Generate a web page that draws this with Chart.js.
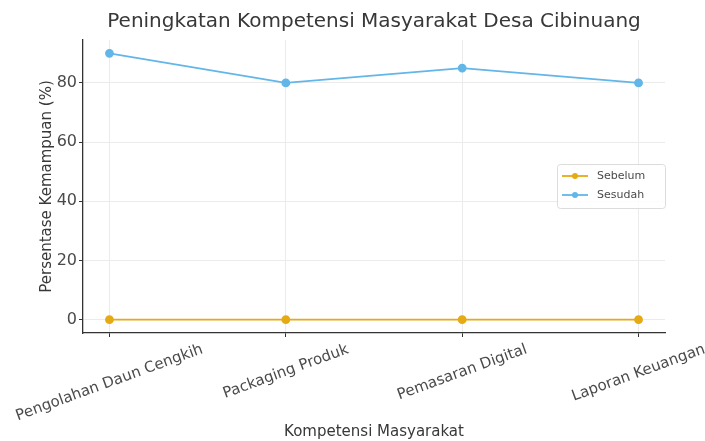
<!DOCTYPE html>
<html>
<head>
<meta charset="utf-8">
<script src="https://cdn.jsdelivr.net/npm/chart.js@4.4.1/dist/chart.umd.min.js"></script>
<style>
  html, body { margin: 0; padding: 0; background: #fff; }
  #chart { display: block; }
</style>
</head>
<body>
<canvas id="chart" width="705" height="441"></canvas>
<script>
// data
const categories = ['Pengolahan Daun Cengkih', 'Packaging Produk', 'Pemasaran Digital', 'Laporan Keuangan'];
const sebelum = [0, 0, 0, 0];
const sesudah = [90, 80, 85, 80];
const yTicks = [0, 20, 40, 60, 80];

const FONT = "'DejaVu Sans', sans-serif";
const TEXT = '#4a4a4a';
const SPINE = '#333';
const GRID = '#ebebeb';

const toPoints = arr => arr.map((v, i) => ({ x: i, y: v }));

// rotated x labels, centred on each tick (like the original)
const xLabels = {
    id: 'xLabels',
    afterDraw(chart) {
        const ctx = chart.ctx;
        const xs = chart.scales.x;
        const ang = 20 * Math.PI / 180;
        ctx.save();
        ctx.font = '15px ' + FONT;
        ctx.fillStyle = TEXT;
        ctx.textAlign = 'center';
        ctx.textBaseline = 'middle';
        categories.forEach((lab, i) => {
            const w = ctx.measureText(lab).width;
            const h = 15;
            const cy = 342 + (w * Math.sin(ang) + h * Math.cos(ang)) / 2;
            ctx.save();
            ctx.translate(xs.getPixelForValue(i), cy);
            ctx.rotate(-ang);
            ctx.fillText(lab, 0, 0);
            ctx.restore();
        });
        ctx.restore();
    }
};

// matplotlib style legend inside the plot, right middle
const boxLegend = {
    id: 'boxLegend',
    afterDraw(chart) {
        const ctx = chart.ctx;
        const x0 = 557, y0 = 164, w = 108, h = 44;
        ctx.save();
        ctx.fillStyle = 'rgba(255,255,255,0.85)';
        ctx.strokeStyle = '#dcdcdc';
        ctx.lineWidth = 1;
        ctx.beginPath();
        ctx.roundRect(x0 + 0.5, y0 + 0.5, w, h, 3);
        ctx.fill();
        ctx.stroke();
        ctx.font = '11px ' + FONT;
        ctx.textBaseline = 'middle';
        ctx.textAlign = 'left';
        chart.data.datasets.forEach((ds, i) => {
            const y = y0 + 12 + i * 19;
            ctx.strokeStyle = ds.borderColor;
            ctx.lineWidth = 1.8;
            ctx.beginPath();
            ctx.moveTo(x0 + 5, y);
            ctx.lineTo(x0 + 31, y);
            ctx.stroke();
            ctx.fillStyle = ds.borderColor;
            ctx.beginPath();
            ctx.arc(x0 + 18, y, 3, 0, Math.PI * 2);
            ctx.fill();
            ctx.fillStyle = TEXT;
            ctx.fillText(ds.label, x0 + 40, y);
        });
        ctx.restore();
    }
};

new Chart(document.getElementById('chart'), {
    type: 'line',
    data: {
        datasets: [
            {
                label: 'Sebelum',
                data: toPoints(sebelum),
                borderColor: '#e6aa14',
                backgroundColor: '#e6aa14',
                borderWidth: 1.8,
                pointRadius: 3.5,
                pointHoverRadius: 3.5,
                fill: false
            },
            {
                label: 'Sesudah',
                data: toPoints(sesudah),
                borderColor: '#62b6e8',
                backgroundColor: '#62b6e8',
                borderWidth: 1.8,
                pointRadius: 3.5,
                pointHoverRadius: 3.5,
                fill: false
            }
        ]
    },
    options: {
        responsive: false,
        animation: false,
        layout: { padding: { top: 0, right: 40, bottom: 0, left: 0 } },
        plugins: {
            legend: { display: false },
            tooltip: { enabled: false },
            title: {
                display: true,
                text: 'Peningkatan Kompetensi Masyarakat Desa Cibinuang',
                fullSize: false,
                color: '#383838',
                font: { family: FONT, size: 20, weight: 'normal' },
                padding: { top: 10, bottom: 6 }
            }
        },
        scales: {
            x: {
                type: 'linear',
                min: -0.15,
                max: 3.15,
                afterBuildTicks: s => { s.ticks = categories.map((c, i) => ({ value: i })); },
                afterFit: s => { s.height = 108; },
                ticks: { display: false },
                grid: { color: GRID, tickLength: 4, tickColor: SPINE, lineWidth: 1 },
                border: { display: true, color: SPINE, width: 1.3 },
                title: {
                    display: true,
                    text: 'Kompetensi Masyarakat',
                    color: '#383838',
                    font: { family: FONT, size: 15 },
                    padding: { top: 0, bottom: 0 }
                }
            },
            y: {
                min: -4.5,
                max: 94.5,
                afterBuildTicks: s => { s.ticks = yTicks.map(v => ({ value: v })); },
                afterFit: s => { s.width = 83; },
                ticks: { color: TEXT, font: { family: FONT, size: 16 }, padding: 2 },
                grid: { color: GRID, tickLength: 4, tickColor: SPINE, lineWidth: 1 },
                border: { display: true, color: SPINE, width: 1.3 },
                title: {
                    display: true,
                    text: 'Persentase Kemampuan (%)',
                    color: '#383838',
                    font: { family: FONT, size: 15 },
                    padding: { top: 38, bottom: 0 }
                }
            }
        }
    },
    plugins: [xLabels, boxLegend]
});
</script>
</body>
</html>
